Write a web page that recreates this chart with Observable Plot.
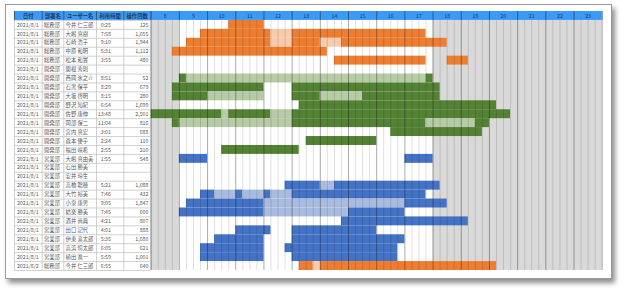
<!DOCTYPE html>
<html>
<head>
<meta charset="utf-8">
<script src="https://cdn.jsdelivr.net/npm/d3@7"></script>
<script src="https://cdn.jsdelivr.net/npm/@observablehq/plot@0.6"></script>
<style>
  body { margin: 0; background: #fff; }
  #wrap { position: relative; width: 626px; height: 292px; }
  #frame { position: absolute; left: 5px; top: 4px; width: 605px; height: 273px;
           border: 1px solid #9a9a9a; background: #fff;
           box-shadow: 3px 4px 5px rgba(0,0,0,0.45); }
  #wrap svg { position: absolute; left: 0; top: 0; }
</style>
</head>
<body>
<div id="wrap"><div id="frame"></div></div>
<script>
// ---- data ----
const headers = ["日付", "部署名", "ユーザー名", "利用時間", "操作回数"];
const dates = ["2021/8/1","2021/8/1","2021/8/1","2021/8/1","2021/8/1","2021/8/1","2021/8/1","2021/8/1","2021/8/1","2021/8/1",
               "2021/8/1","2021/8/1","2021/8/1","2021/8/1","2021/8/1","2021/8/1","2021/8/1","2021/8/1","2021/8/1","2021/8/1",
               "2021/8/1","2021/8/1","2021/8/1","2021/8/1","2021/8/1","2021/8/1","2021/8/1","2021/8/2"];
const depts = ["総務部","総務部","総務部","総務部","総務部","開発部","開発部","開発部","開発部","開発部",
               "開発部","開発部","開発部","開発部","開発部","営業部","営業部","営業部","営業部","営業部",
               "営業部","営業部","営業部","営業部","営業部","営業部","営業部","総務部"];
const names = ["今井 仁三郎","大嶋 真樹","石崎 浩子","中原 和明","松本 和實","関根 秀則","西岡 氷之介","石黒 保平","大坂 啓明","野沢 知紀",
               "佐野 康伸","岡部 保二","宮内 真宏","森本 優子","福田 咲希","大嶋 真由美","石田 勝美","安井 玲生","高橋 聡穂","大竹 裕美",
               "小泉 康男","結楽 勝美","酒井 尚典","田口 記代","伊東 喜太郎","高浜 恒太郎","植田 進一","今井 仁三郎"];
const usage = ["0:25","7:58","9:10","5:31","3:55","","8:51","8:29","8:15","6:54",
               "13:48","11:04","3:01","2:24","2:55","1:55","","","5:21","7:46",
               "9:05","7:45","4:21","4:01","5:35","6:05","5:59","6:55"];
const ops = ["125","1,655","1,944","1,112","480","","52","679","280","1,699",
             "2,501","816","688","110","210","548","","","1,088","432",
             "1,847","600","807","888","1,680","621","1,001","640"];
const hourLabels = [8,9,10,11,12,13,14,15,16,17,18,19,20,21,22,23];
const offHours = [[8, 9], [18, 24]];
const deptColors = {"総務部": ["#ED7D31", "#F8CBAD"], "開発部": ["#548235", "#B7CBA6"], "営業部": ["#4472C4", "#A9BCE0"]};
// [row, start, end, light]
const segments = [
  [1,"10:45","12:00",0],
  [2,"9:45","12:15",0],[2,"12:15","13:00",1],[2,"13:00","17:45",0],
  [3,"9:15","12:15",0],[3,"12:15","13:00",1],[3,"13:00","14:00",0],[3,"14:00","14:45",1],[3,"14:45","18:30",0],
  [4,"8:45","14:15",0],
  [5,"14:30","17:45",0],[5,"18:30","19:15",0],
  [7,"9:00","9:15",0],[7,"9:15","17:45",1],[7,"17:45","18:00",0],
  [8,"8:45","12:00",0],[8,"13:00","18:15",0],
  [9,"8:45","10:00",0],[9,"10:00","12:00",1],[9,"13:00","14:00",0],[9,"14:00","15:30",1],[9,"15:30","18:15",0],
  [10,"13:15","20:15",0],
  [11,"8:00","10:30",0],[11,"10:30","10:45",1],[11,"10:45","12:15",0],[11,"12:15","13:00",1],[11,"13:00","20:45",0],
  [12,"8:45","9:00",0],[12,"9:00","13:00",1],[12,"13:00","17:45",0],[12,"17:45","19:30",1],[12,"19:30","20:00",0],
  [13,"16:30","19:45",0],
  [14,"13:30","16:00",0],
  [15,"10:30","13:15",0],
  [16,"9:00","10:00",0],[16,"17:00","18:00",0],
  [19,"12:45","14:00",0],[19,"14:00","14:30",1],[19,"14:30","18:15",0],
  [20,"9:45","10:15",0],[20,"10:15","11:00",1],[20,"11:00","11:15",0],[20,"11:15","12:00",1],[20,"12:00","12:15",0],[20,"12:15","13:00",1],[20,"13:00","17:45",0],
  [21,"9:15","12:00",0],[21,"12:00","17:00",1],[21,"17:00","18:30",0],
  [22,"9:00","12:00",0],[22,"12:00","15:00",1],[22,"15:00","17:00",0],
  [23,"14:45","19:15",0],
  [24,"11:00","12:15",0],[24,"13:00","16:00",0],
  [25,"10:15","12:00",0],[25,"13:00","17:00",0],
  [26,"9:45","12:00",0],[26,"12:45","16:45",0],
  [27,"9:45","12:00",0],[27,"13:00","16:45",0],
  [28,"13:15","13:45",0],[28,"13:45","14:00",1],[28,"14:00","20:15",0]
];

// ---- layout ----
const FONT = "'Noto Sans CJK JP', 'Noto Sans', sans-serif";
const HEAD_BLUE = "#3A9AF5";
const HEAD_TEXT = "#1F3864";
const colEdges = [14, 41.7, 63.3, 96, 123.3, 150];
const yScale = {domain: [0, 29], range: [11, 270], axis: null};
const toH = s => { const [h, m] = s.split(":").map(Number); return h + m / 60; };

const rows = dates.map((d, i) => ({i: i + 1, date: d, dept: depts[i], name: names[i], usage: usage[i], ops: ops[i]}));
const segs = segments.map(([r, s, e, l]) => ({row: r, x1: toH(s), x2: toH(e), fill: deptColors[depts[r - 1]][l]}));
const quarters = d3.range(8, 24.001, 0.25);

// ---- table ----
const txt = {fontFamily: FONT, fontSize: 5.3, fill: "#595959"};
const table = Plot.plot({
  width: 626, height: 292, margin: 0,
  style: {background: "transparent"},
  x: {domain: [0, 626], range: [0, 626], axis: null},
  y: yScale,
  marks: [
    Plot.rect([0], {x1: colEdges[0], x2: colEdges[5], y1: 0, y2: 1, fill: HEAD_BLUE}),
    Plot.ruleY(d3.range(1, 30), {x1: colEdges[0], x2: colEdges[5], stroke: "#c4c4c4", strokeWidth: 0.8}),
    Plot.ruleX(colEdges, {y1: 1, y2: 29, stroke: "#c4c4c4", strokeWidth: 0.8}),
    Plot.ruleX(colEdges, {y1: 0, y2: 1, stroke: "#2b4a70", strokeWidth: 0.8}),
    Plot.text(headers, {x: (d, i) => (colEdges[i] + colEdges[i + 1]) / 2, y: 0.5, text: d => d,
      fontFamily: FONT, fontSize: 5.3, fontWeight: "bold", fill: HEAD_TEXT}),
    Plot.text(rows, {x: colEdges[1] - 3.5, y: d => d.i + 0.5, text: "date", textAnchor: "end", ...txt}),
    Plot.text(rows, {x: colEdges[1] + 1.8, y: d => d.i + 0.5, text: "dept", textAnchor: "start", ...txt}),
    Plot.text(rows, {x: colEdges[2] + 1.8, y: d => d.i + 0.5, text: "name", textAnchor: "start", ...txt}),
    Plot.text(rows, {x: 110.5, y: d => d.i + 0.5, text: "usage", textAnchor: "end", ...txt}),
    Plot.text(rows, {x: colEdges[5] - 2, y: d => d.i + 0.5, text: "ops", textAnchor: "end", ...txt})
  ]
});

// ---- gantt ----
const gantt = Plot.plot({
  width: 626, height: 292, margin: 0,
  style: {background: "transparent"},
  x: {domain: [8, 24], range: [150.7, 601.7], axis: null},
  y: yScale,
  color: {type: "identity"},
  marks: [
    Plot.rect(offHours, {x1: d => d[0], x2: d => d[1], y1: 1, y2: 29, fill: "#d9d9d9"}),
    Plot.rect(segs, {x1: "x1", x2: "x2", y1: d => d.row, y2: d => d.row + 1, fill: "fill"}),
    Plot.ruleX(quarters.filter(q => q % 1 !== 0), {y1: 1, y2: 29, stroke: "#000", strokeOpacity: 0.16, strokeWidth: 0.8}),
    Plot.ruleX(quarters.filter(q => q % 1 === 0), {y1: 1, y2: 29, stroke: "#000", strokeOpacity: 0.42, strokeWidth: 0.8}),
    Plot.rect([0], {x1: 8, x2: 24, y1: 0, y2: 1, fill: HEAD_BLUE}),
    Plot.ruleX(quarters.filter(q => q % 1 === 0), {y1: 0, y2: 1, stroke: "#2b4a70", strokeWidth: 0.8}),
    Plot.text(hourLabels, {x: d => d + 0.5, y: 0.5, text: d => String(d), fontFamily: FONT, fontSize: 5.3, fill: HEAD_TEXT})
  ]
});

const wrap = document.getElementById("wrap");
wrap.appendChild(table);
wrap.appendChild(gantt);
</script>
</body>
</html>
